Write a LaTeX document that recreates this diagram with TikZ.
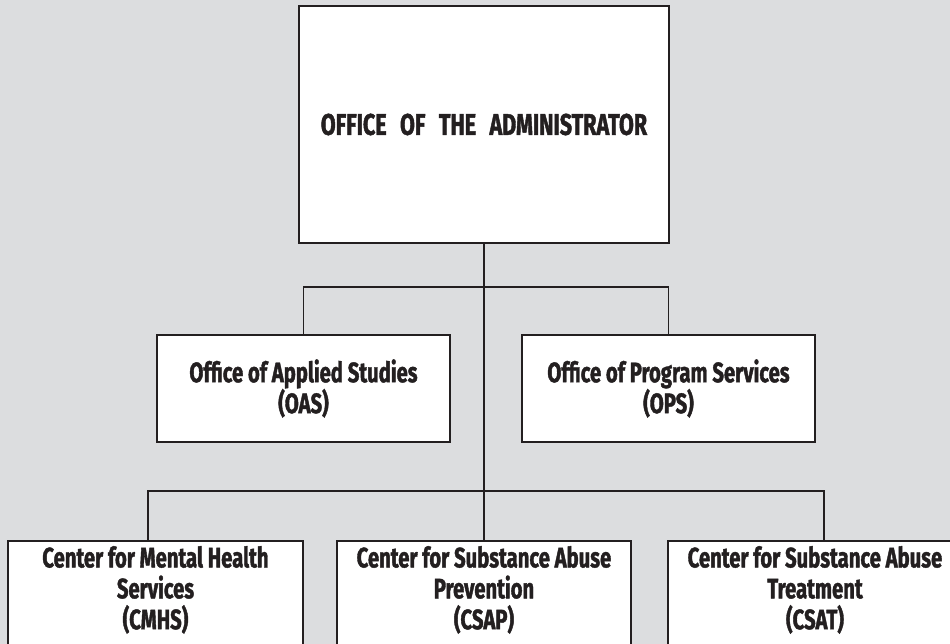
\documentclass[tikz,border=0pt]{standalone}
\usepackage{fontspec}
\setmainfont{Fira Sans}[FakeStretch=0.72, BoldFeatures={FakeBold=1.4}]
\definecolor{panel}{HTML}{DCDDDF}
\definecolor{ink}{HTML}{231F20}
\begin{document}
\begin{tikzpicture}[x=0.02cm, y=-0.02cm,
  office/.style={draw=ink, line width=1.2pt, fill=white, text=ink, align=center,
    font=\bfseries\fontsize{16}{17.6}\selectfont},
  link/.style={draw=ink, line width=1.1pt}]
\useasboundingbox (0,0) rectangle (950,644);
\clip (0,0) rectangle (950,644);
\fill[panel] (0,0) rectangle (950,644);
% top
\node[office, minimum width=7.4cm, minimum height=4.74cm, inner sep=0pt,
  font=\bfseries\fontsize{17}{20}\selectfont] (admin) at (484,124.5)
  {OFFICE\hspace{0.45em}OF\hspace{0.45em}THE\hspace{0.45em}ADMINISTRATOR};
% offices
\node[office, minimum width=5.86cm, minimum height=2.14cm, inner sep=0pt] (oas) at (303.5,388.5)
  {Office of Applied Studies\\(OAS)};
\node[office, minimum width=5.86cm, minimum height=2.14cm, inner sep=0pt] (ops) at (668.5,388.5)
  {Office of Program Services\\(OPS)};
% centers
\node[office, anchor=north, inner xsep=0pt, inner ysep=0.1cm] (cmhs) at (155.5,540)
  {\parbox[t][3cm][t]{5.9cm}{\centering Center for Mental Health\\Services\\(CMHS)}};
\node[office, anchor=north, inner xsep=0pt, inner ysep=0.1cm] (csap) at (484,540)
  {\parbox[t][3cm][t]{5.88cm}{\centering Center for Substance Abuse\\Prevention\\(CSAP)}};
\node[office, anchor=north, inner xsep=0pt, inner ysep=0.1cm] (csat) at (815,540)
  {\parbox[t][3cm][t]{5.88cm}{\centering Center for Substance Abuse\\Treatment\\(CSAT)}};
% lines
\coordinate (upper) at (484,287);
\coordinate (lower) at (484,491);
\draw[link] (admin.south -| upper) -- (csap.north -| upper);
\draw[link] (oas.north) |- (upper) -| (ops.north);
\draw[link] (cmhs.north -| 148,0) |- (lower) -| (csat.north -| 824,0);
\end{tikzpicture}
\end{document}
